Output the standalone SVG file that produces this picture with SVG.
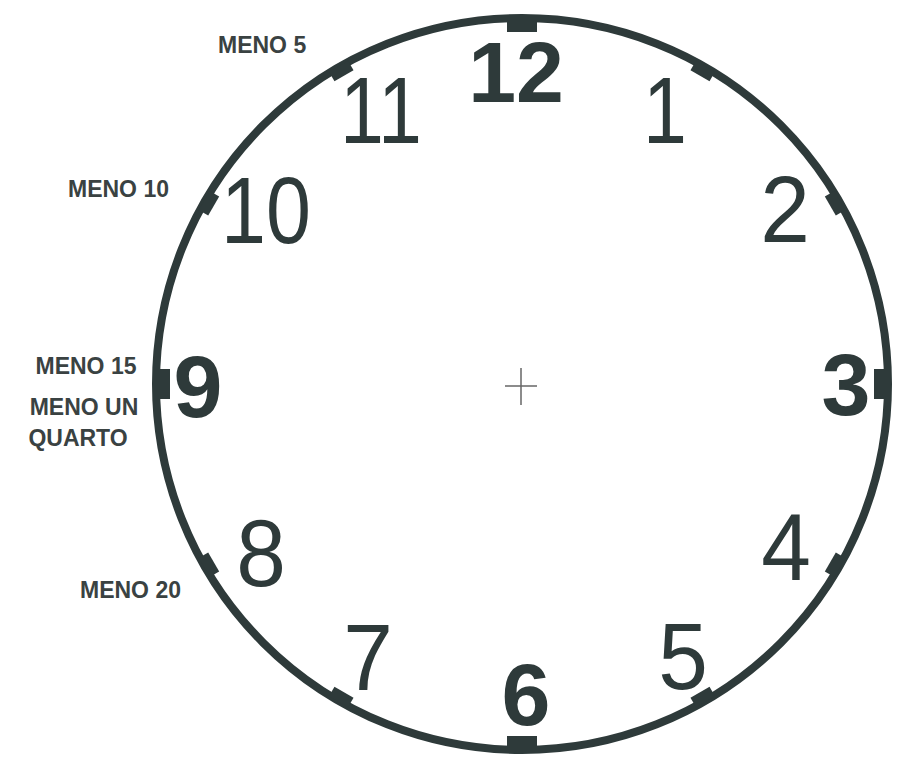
<svg xmlns="http://www.w3.org/2000/svg" width="901" height="763" viewBox="0 0 901 763">
<style>
.ring{fill:none;stroke:#2e3a3a;stroke-width:8}
.tk{fill:#2e3a3a}
.num{font-family:"Liberation Sans",Arial,sans-serif;font-size:94px;fill:#2e3a3a;text-anchor:middle}
.bnum{font-family:"Liberation Sans",Arial,sans-serif;font-size:88px;font-weight:bold;fill:#2e3a3a;text-anchor:middle}
.lbl{font-family:"Liberation Sans",Arial,sans-serif;font-size:23px;font-weight:bold;fill:#3a4242}
.cross{stroke:#666;stroke-width:1.5}
</style>
<defs>
<rect id="minor" x="511" y="17" width="22" height="11"/>
<rect id="major" x="507" y="15" width="30" height="17"/>
</defs>
<rect width="901" height="763" fill="#fff"/>
<g id="dial">
<circle class="ring" cx="522" cy="384" r="366"/>
<g class="tk">
<use href="#major"/>
<use href="#minor" transform="rotate(30 522 384)"/>
<use href="#minor" transform="rotate(60 522 384)"/>
<use href="#major" transform="rotate(90 522 384)"/>
<use href="#minor" transform="rotate(120 522 384)"/>
<use href="#minor" transform="rotate(150 522 384)"/>
<use href="#major" transform="rotate(180 522 384)"/>
<use href="#minor" transform="rotate(210 522 384)"/>
<use href="#minor" transform="rotate(240 522 384)"/>
<use href="#major" transform="rotate(270 522 384)"/>
<use href="#minor" transform="rotate(300 522 384)"/>
<use href="#minor" transform="rotate(330 522 384)"/>
</g>
</g>
<g id="center">
<line class="cross" x1="505" y1="386" x2="537" y2="386"/>
<line class="cross" x1="521" y1="368" x2="521" y2="405"/>
</g>
<g id="numbers">
<text class="bnum" x="516" y="102" style="font-size:86px">12</text>
<text class="num" transform="translate(665 143) scale(0.84 1)">1</text>
<text class="num" transform="translate(785 242) scale(0.95 1)">2</text>
<text class="bnum" x="846" y="415">3</text>
<text class="num" transform="translate(786 580) scale(0.95 1)">4</text>
<text class="num" transform="translate(683 689) scale(0.95 1)">5</text>
<text class="bnum" x="526" y="725">6</text>
<text class="num" transform="translate(368 690) scale(0.95 1)">7</text>
<text class="num" transform="translate(261 586) scale(0.95 1)">8</text>
<text class="bnum" x="198" y="417">9</text>
<text class="num" transform="translate(266 243) scale(0.86 1)">10</text>
<text class="num" transform="translate(381 143) scale(0.84 1)">11</text>
</g>
<g id="labels">
<text class="lbl" x="218" y="53">MENO 5</text>
<text class="lbl" x="68" y="197">MENO 10</text>
<text class="lbl" x="86" y="374" text-anchor="middle">MENO 15</text>
<text class="lbl" x="84" y="415" text-anchor="middle">MENO UN</text>
<text class="lbl" x="78" y="446" text-anchor="middle">QUARTO</text>
<text class="lbl" x="80" y="598">MENO 20</text>
</g>
</svg>
